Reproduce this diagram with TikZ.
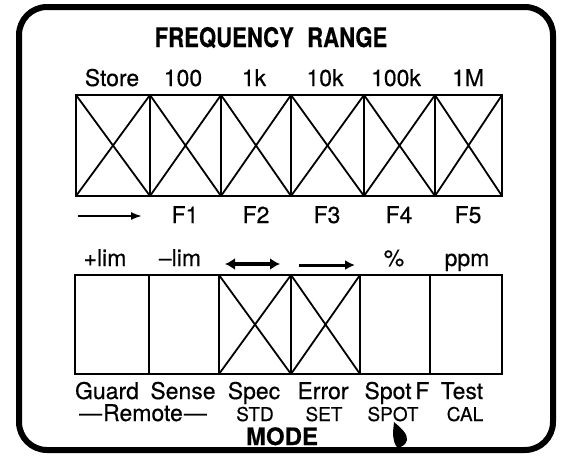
\documentclass[tikz,border=0pt]{standalone}
\usepackage{fontspec}
\usepackage{graphicx}
\setmainfont{TeX Gyre Heros}[FakeBold=0.4]
\usetikzlibrary{arrows.meta}
\tikzset{
  cell/.style={draw, line width=2.2pt, rectangle, inner sep=0pt, outer sep=0pt},
  crossline/.style={line width=1.8pt},
  lab/.style={anchor=base, inner sep=0pt, font=\fontsize{23}{23}\selectfont},
  small/.style={anchor=base, inner sep=0pt, font=\fontsize{19}{19}\selectfont},
  frame/.style={line width=6pt, rounded corners=28pt},
}
\newcommand{\crossit}[1]{\draw[crossline] (#1.north west) -- (#1.south east) (#1.north east) -- (#1.south west);}
\begin{document}
\begin{tikzpicture}[x=1pt,y=-1pt]
\useasboundingbox (0,0) rectangle (566,456);
\draw[frame] (19,7) rectangle (553,450);

\node[anchor=base, inner sep=0pt] (title) at (271,47) {\scalebox{0.82}[1]{\fontsize{27}{27}\selectfont\bfseries FREQUENCY\hspace{0.6em}RANGE}};

% top row
\foreach \n/\cx/\w in {t1/113/74, t2/185.5/71, t3/256/70, t4/327.5/73, t5/399.5/71, t6/468.5/67}{
  \node[cell, minimum width=\w pt, minimum height=101pt] (\n) at (\cx,145.5) {};
}
\foreach \n in {t1,t2,t3,t4,t5,t6}{\crossit{\n}}

\node[lab] (ls) at (112,86) {Store};
\node[lab] (l100) at (183,86) {100};
\node[lab] (l1k) at (254,86) {1k};
\node[lab] (l10k) at (325,86) {10k};
\node[lab] (l100k) at (396,86) {100k};
\node[lab] (l1M) at (468,86) {1M};

\coordinate (sa) at (78,216);
\coordinate (sb) at (142,216);
\draw[line width=1.8pt, -{Latex[length=11pt,width=8pt]}] (sa) -- (sb);
\node[lab] (f1) at (185,223) {F1};
\node[lab] (f2) at (256,223) {F2};
\node[lab] (f3) at (327,223) {F3};
\node[lab] (f4) at (399,223) {F4};
\node[lab] (f5) at (468,223) {F5};

% bottom row
\foreach \n/\cx/\w in {b1/112/74, b2/184/70, b3/255/72, b4/325.5/69, b5/395/70, b6/466/72}{
  \node[cell, minimum width=\w pt, minimum height=99pt] (\n) at (\cx,324.5) {};
}
\crossit{b3}
\crossit{b4}

\node[lab] (plim) at (105,266) {+lim};
\node[lab] (mlim) at (180,266) {--lim};
\coordinate (da) at (225,264);
\coordinate (db) at (280,264);
\draw[line width=4pt, {Latex[length=10pt,width=12pt]}-{Latex[length=10pt,width=12pt]}] (da) -- (db);
\coordinate (ra) at (299,265);
\coordinate (rb) at (355,265);
\draw[line width=3pt, -{Latex[length=10pt,width=10pt]}] (ra) -- (rb);
\node[lab] (pct) at (394,266) {\%};
\node[lab] (ppm) at (467,266) {ppm};

\node[lab] (guard) at (107,399) {Guard};
\node[lab] (sense) at (183,399) {Sense};
\node[lab] (spec) at (254,399) {Spec};
\node[lab] (err) at (323,399) {Error};
\node[lab] (spotf) at (397,399) {Spot\,F};
\node[lab] (test) at (462,399) {Test};

\node[lab] (remote) at (143,421) {---\kern1pt Remote\kern1pt---};
\node[small] (std) at (255,421) {STD};
\node[small] (set) at (324,421) {SET};
\node[small] (spot) at (393,421) {SPOT};
\node[small] (cal) at (465,421) {CAL};

\node[anchor=base, inner sep=0pt, font=\fontsize{24}{24}\selectfont\bfseries] (mode) at (282,445) {MODE};

% pointer mark
\fill (394,422) .. controls (401,428) and (408,434) .. (407,440) .. controls (406,445) and (401,447) .. (398,448) .. controls (395,446) and (393,440) .. (393,432) -- cycle;
\draw[line width=1pt] (398,447) -- (401,451);
\end{tikzpicture}
\end{document}
